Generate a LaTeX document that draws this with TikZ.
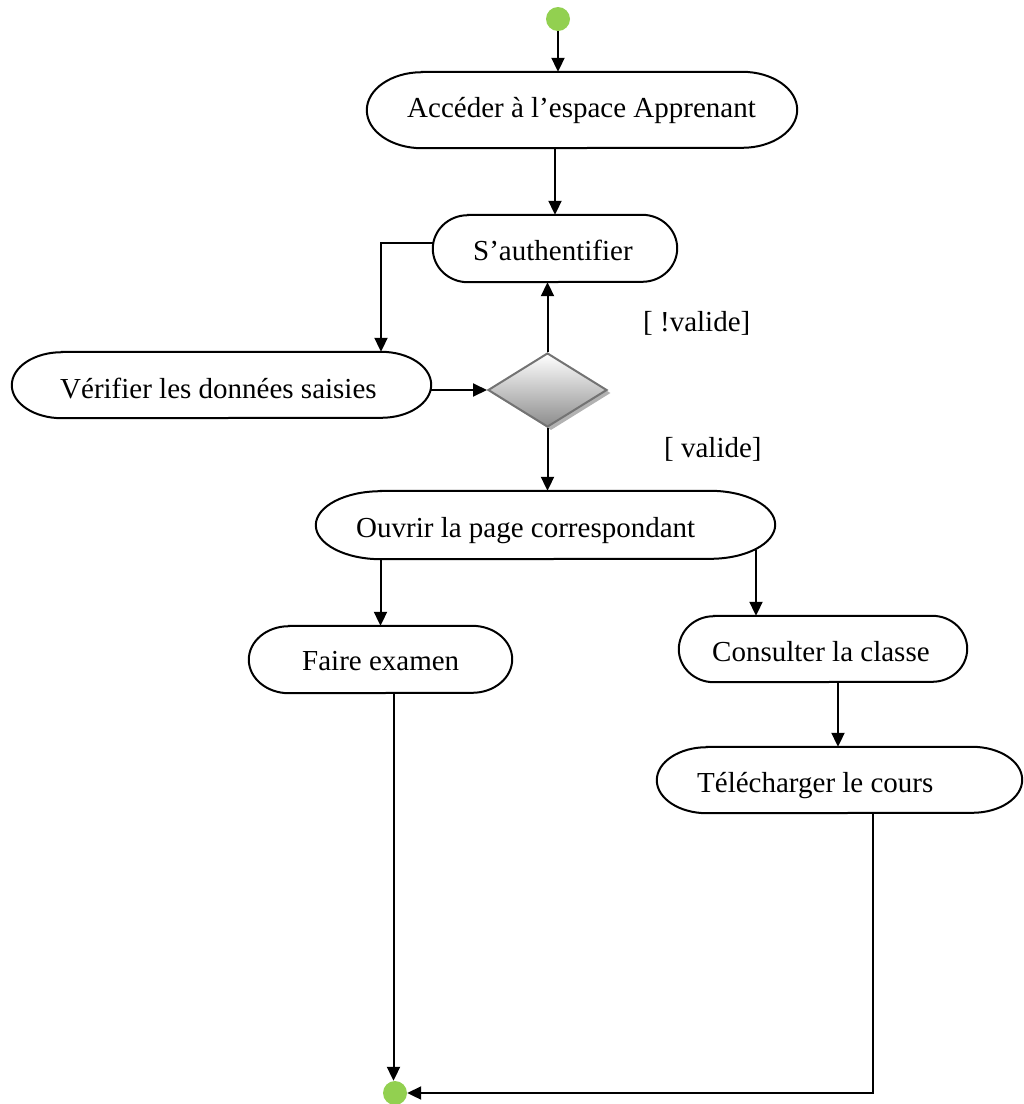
\documentclass[tikz,border=0pt]{standalone}
\usepackage{fontspec}
\setmainfont{Liberation Serif}
\usetikzlibrary{arrows.meta,shapes.geometric,calc}

\definecolor{umlgreen}{HTML}{92D050}

\tikzset{
  boxline/.style={draw=black, line width=2pt},
  box/.style={rectangle, inner sep=0pt, draw=none},
  txt/.style={anchor=base west, inner sep=0pt, font=\fontsize{29}{34}\selectfont},
  arr/.style={line width=2pt, -{Triangle[length=14pt,width=13pt]}},
  dot/.style={circle, fill=umlgreen, draw=none, minimum size=24pt, inner sep=0pt},
  decision/.style={diamond, inner sep=0pt, minimum width=119pt, minimum height=74pt,
    draw=black!55, line width=2pt, top color=white, bottom color=black!45},
}

% stadium outline with elliptical ends: node, x radius, y radius
\newcommand\stadiumpath[3]{%
  \draw[boxline] ([xshift=#2]#1.north west) -- ([xshift=-#2]#1.north east)
    arc[start angle=90, end angle=-90, x radius=#2, y radius=#3]
    -- ([xshift=#2]#1.south west)
    arc[start angle=270, end angle=90, x radius=#2, y radius=#3] -- cycle;}

\begin{document}
\begin{tikzpicture}[x=1pt, y=-1pt]
  \useasboundingbox (0,0) rectangle (1024,1104);

  % initial and final states
  \node[dot] (start) at (558,19) {};
  \node[dot] (end) at (395,1093) {};

  % activity boxes
  \node[box, minimum width=430pt, minimum height=76pt] (acc)   at (582,110) {};
  \node[box, minimum width=244pt, minimum height=67pt] (auth)  at (555,248.5) {};
  \node[box, minimum width=419pt, minimum height=66pt] (ver)   at (221.5,385) {};
  \node[box, minimum width=459pt, minimum height=68pt] (ouv)   at (545.5,525) {};
  \node[box, minimum width=263pt, minimum height=67pt] (faire) at (380.5,659.5) {};
  \node[box, minimum width=288pt, minimum height=66pt] (cons)  at (823,649) {};
  \node[box, minimum width=365pt, minimum height=66pt] (tel)   at (839.5,780) {};

  \stadiumpath{acc}{55pt}{38pt}
  \stadiumpath{auth}{35pt}{33.5pt}
  \stadiumpath{ver}{50pt}{33pt}
  \stadiumpath{ouv}{65pt}{34pt}
  \stadiumpath{faire}{40pt}{33.5pt}
  \stadiumpath{cons}{35pt}{33pt}
  \stadiumpath{tel}{50pt}{33pt}

  % box texts
  \node[txt] (tacc)   at (407,117) {Accéder à l’espace Apprenant};
  \node[txt] (tauth)  at (473,260) {S’authentifier};
  \node[txt] (tver)   at (60,398)  {Vérifier les données saisies};
  \node[txt] (touv)   at (356,537) {Ouvrir la page correspondant};
  \node[txt] (tfaire) at (302,670) {Faire examen};
  \node[txt] (tcons)  at (712,661) {Consulter la classe};
  \node[txt] (ttel)   at (697,792) {Télécharger le cours};

  % decision with its drop shadow
  \node[diamond, inner sep=0pt, minimum width=119pt, minimum height=74pt,
        fill=black!30, draw=none] (decsh) at (551,393) {};
  \node[decision] (dec) at (547.5,390) {};

  % guards
  \node[txt] (gno)  at (643,331) {[ !valide]};
  \node[txt] (gyes) at (664,457) {[ valide]};

  % control flows
  \draw[arr] (start) -- (start |- acc.north);
  \draw[arr] (auth.north |- acc.south) -- (auth.north);
  \draw[arr] ([yshift=5.5pt]auth.west) -| ([xshift=159.5pt]ver.north);
  \draw[arr] (ver.east |- dec.west) -- (dec.west);
  \draw[arr] (dec.north) -- (dec.north |- auth.south);
  \draw[arr] (dec.south) -- (dec.south |- ouv.north);
  \draw[arr] (faire.north |- ouv.south) -- (faire.north);
  \draw[arr] ([xshift=210.5pt,yshift=-25pt]ouv.center) coordinate (o2c) -- (o2c |- cons.north);
  \draw[arr] ([xshift=15pt]cons.south) coordinate (c2t) -- (c2t |- tel.north);
  \draw[arr] ([xshift=13pt]faire.south) coordinate (f2e) -- (f2e |- end.north);
  \draw[arr] ([xshift=33.5pt]tel.south) |- (end.east);
\end{tikzpicture}
\end{document}
